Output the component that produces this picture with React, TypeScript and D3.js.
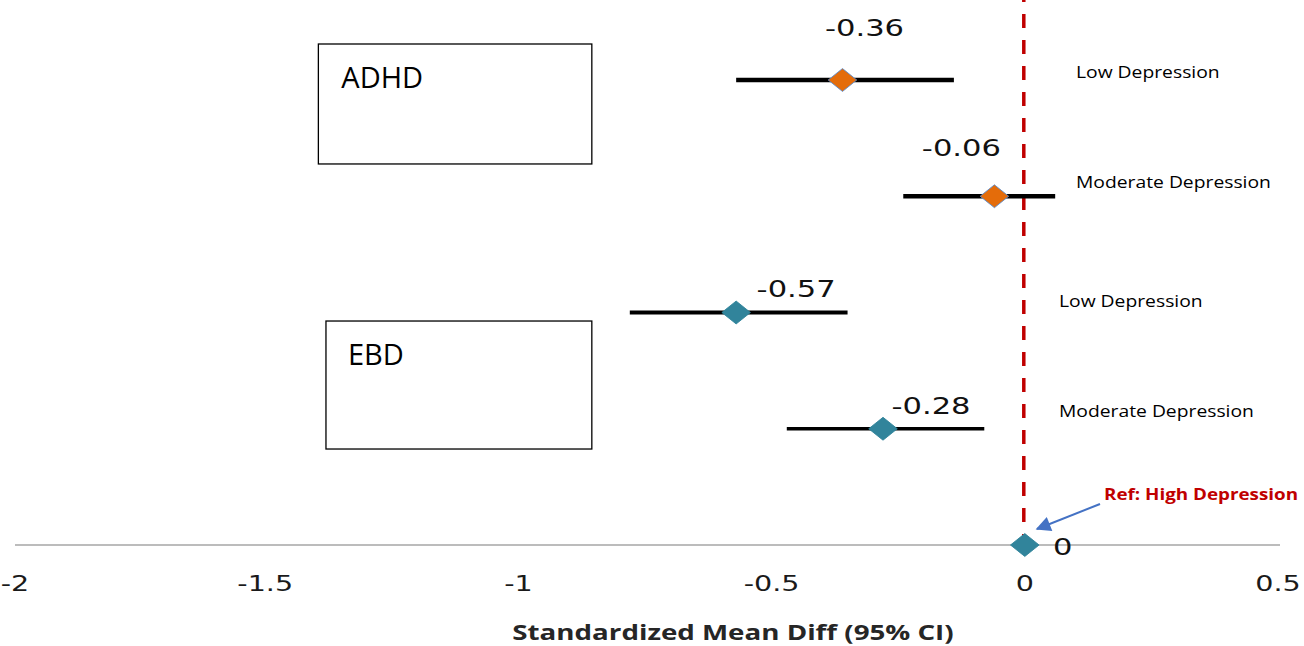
import React from "react";
import * as d3 from "d3";

// ---- data ----
const rowIds = ["adhdLow", "adhdMod", "ebdLow", "ebdMod", "ref"];
const groups = ["ADHD", "ADHD", "EBD", "EBD", "Ref"];
const rowLabels = ["Low Depression", "Moderate Depression", "Low Depression", "Moderate Depression", ""];
const estimates = [-0.36, -0.06, -0.57, -0.28, 0];
const ciLower = [-0.57, -0.24, -0.78, -0.47, 0];
const ciUpper = [-0.14, 0.06, -0.35, -0.08, 0];
const estLabels = ["-0.36", "-0.06", "-0.57", "-0.28", "0"];
const xTicks = [-2, -1.5, -1, -0.5, 0, 0.5];
const xTickLabels = ["-2", "-1.5", "-1", "-0.5", "0", "0.5"];
const groupBoxes = ["ADHD", "EBD"];
const axisTitle = "Standardized Mean Diff (95% CI)";
const refNote = "Ref: High Depression";

// ---- layout / style ----
const W = 1304;
const H = 646;
const COLORS: Record<string, string> = { ADHD: "#E46C0A", EBD: "#31849B", Ref: "#31849B" };
const labelOffsets = [
  [22, -44],
  [-33, -40],
  [60, -16],
  [48, -15],
  [38, 10],
];
const rowLabelX = [1076, 1076, 1059, 1059, 0];
const rowLabelDy = [-2, -8, -6, -12, 0];
const ciWidth = [4.5, 4.5, 4, 3.5, 0];
const boxLayout = [
  { x0: -1.395, x1: -0.855, r0: 0, r1: 1.032, tx: 23 },
  { x0: -1.38, x1: -0.855, r0: 2.383, r1: 3.484, tx: 22 },
];

type STProps = {
  x: number;
  y: number;
  sx: number;
  anchor?: string;
  family: string;
  size: number;
  weight?: string;
  fill: string;
  children: React.ReactNode;
};
function StretchText({ x, y, sx, anchor = "start", family, size, weight = "normal", fill, children }: STProps) {
  return (
    <text
      transform={`translate(${x},${y}) scale(${sx},1)`}
      textAnchor={anchor}
      fontFamily={family}
      fontSize={size}
      fontWeight={weight}
      fill={fill}
    >
      {children}
    </text>
  );
}

const NUM_FONT = "'DejaVu Sans', sans-serif";
const LBL_FONT = "'Open Sans', sans-serif";

export default function App() {
  const x = d3.scaleLinear().domain([-2, 0.5]).range([12, 1278]);
  const y = d3.scalePoint<string>().domain(rowIds).range([80, 545]);
  const rowIdx = d3.scaleLinear().domain([0, 4]).range([80, 545]);
  const diamond = d3.symbol().type(d3.symbolDiamond2).size(520);
  const x0 = x(0);

  return (
    <svg width={W} height={H} style={{ position: "absolute", left: 0, top: 0, background: "#fff" }}>
      {/* axis line */}
      <line x1={15} x2={1280} y1={y("ref")} y2={y("ref")} stroke="#A6A6A6" strokeWidth={1.3} />
      {/* tick labels */}
      {xTicks.map((t, i) => (
        <StretchText
          key={"t" + i}
          x={Math.max(x(t), 15)}
          y={591}
          sx={1.3}
          anchor="middle"
          family={NUM_FONT}
          size={22}
          fill="#1a1a1a"
        >
          {xTickLabels[i]}
        </StretchText>
      ))}
      <StretchText x={733} y={640} sx={1.32} anchor="middle" family={LBL_FONT} size={21} weight="bold" fill="#262626">
        {axisTitle}
      </StretchText>

      {/* reference dashed line */}
      <line
        x1={x0 - 1}
        x2={x0 - 1}
        y1={0}
        y2={y("ref")}
        stroke="#C00000"
        strokeWidth={3.5}
        strokeDasharray="14 12"
        strokeDashoffset={12}
      />

      {/* group boxes */}
      {groupBoxes.map((g, i) => {
        const b = boxLayout[i];
        const top = rowIdx(b.r0) - 36;
        const bottom = rowIdx(b.r1) - 36;
        return (
          <g key={g}>
            <rect
              x={x(b.x0)}
              y={top}
              width={x(b.x1) - x(b.x0)}
              height={bottom - top}
              fill="#fff"
              stroke="#000"
              strokeWidth={1.3}
            />
            <text x={x(b.x0) + b.tx} y={top + 44} fontFamily={LBL_FONT} fontSize={29} fill="#000">
              {g}
            </text>
          </g>
        );
      })}

      {/* CI lines + diamonds */}
      {rowIds.map((id, i) => {
        const cy = y(id) as number;
        return (
          <g key={id}>
            {ciWidth[i] > 0 && (
              <line x1={x(ciLower[i])} x2={x(ciUpper[i])} y1={cy} y2={cy} stroke="#000" strokeWidth={ciWidth[i]} />
            )}
            <path
              d={diamond() as string}
              transform={`translate(${x(estimates[i])},${cy}) scale(1,0.8)`}
              fill={COLORS[groups[i]]}
              stroke={groups[i] === "ADHD" ? "#5B8FD0" : COLORS[groups[i]]}
              strokeWidth={1}
            />
            <StretchText
              x={x(estimates[i]) + labelOffsets[i][0]}
              y={cy + labelOffsets[i][1]}
              sx={1.33}
              anchor="middle"
              family={NUM_FONT}
              size={23}
              fill="#111"
            >
              {estLabels[i]}
            </StretchText>
            {rowLabels[i] && (
              <StretchText x={rowLabelX[i]} y={cy + rowLabelDy[i]} sx={1.17} family={LBL_FONT} size={16.5} fill="#000">
                {rowLabels[i]}
              </StretchText>
            )}
          </g>
        );
      })}

      {/* ref annotation */}
      <defs>
        <marker
          id="arr"
          viewBox="0 0 10 10"
          refX={9}
          refY={5}
          markerWidth={8}
          markerHeight={7.5}
          markerUnits="strokeWidth"
          orient="auto"
        >
          <path d="M0,0 L10,5 L0,10 z" fill="#4472C4" />
        </marker>
      </defs>
      <line x1={1100} y1={504} x2={1037} y2={529} stroke="#4472C4" strokeWidth={2} markerEnd="url(#arr)" />
      <StretchText x={1104} y={500} sx={1.14} family={LBL_FONT} size={16.5} weight="bold" fill="#C00000">
        {refNote}
      </StretchText>
    </svg>
  );
}
